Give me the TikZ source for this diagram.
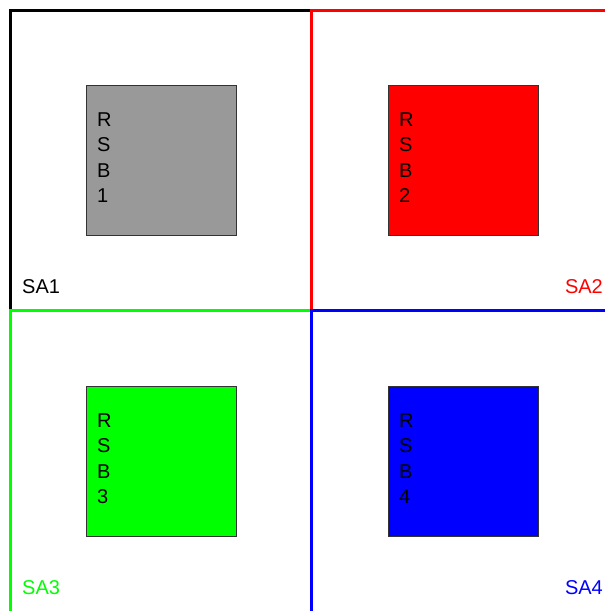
\documentclass[tikz,border=0pt]{standalone}
\usepackage{fontspec}
\setmainfont{Liberation Sans}
\definecolor{sagreen}{RGB}{0,255,0}
\definecolor{rsbgray}{RGB}{153,153,153}
\begin{document}
\begin{tikzpicture}[x=1pt,y=-1pt,
  frame/.style={line width=3pt},
  rsbbox/.style={draw=black!80, line width=0.8pt, minimum width=150pt, minimum height=150pt, inner sep=0pt, anchor=north west},
  rsbtext/.style={anchor=north west, inner sep=0pt, align=left, font=\fontsize{20}{25.5}\selectfont},
  salabel/.style={inner sep=0pt, font=\fontsize{20}{24}\selectfont}]
\useasboundingbox (0,0) rectangle (605,611);
\fill[white] (0,0) rectangle (605,611);
% frames
\draw[frame, black] (10,10) rectangle (311.5,310.5);
\draw[frame, red] (311.5,10) rectangle (625,310.5);
\draw[frame, sagreen] (10,310.5) rectangle (311.5,625);
\draw[frame, blue] (311.5,310.5) rectangle (625,625);
% boxes
\node[rsbbox, fill=rsbgray] (rsb1) at (86,85) {};
\node[rsbbox, fill=red] (rsb2) at (388,85) {};
\node[rsbbox, fill=sagreen] (rsb3) at (86,386) {};
\node[rsbbox, fill=blue] (rsb4) at (388,386) {};
\node[rsbtext] (t1) at ([xshift=11pt,yshift=-27.5pt]rsb1.north west) {R\\S\\B\\1};
\node[rsbtext] (t2) at ([xshift=11pt,yshift=-27.5pt]rsb2.north west) {R\\S\\B\\2};
\node[rsbtext] (t3) at ([xshift=11pt,yshift=-27.5pt]rsb3.north west) {R\\S\\B\\3};
\node[rsbtext] (t4) at ([xshift=11pt,yshift=-27.5pt]rsb4.north west) {R\\S\\B\\4};
% labels
\node[salabel, anchor=base west, text=black] (sa1) at (22,293) {SA1};
\node[salabel, anchor=base east, text=red] (sa2) at (603,293) {SA2};
\node[salabel, anchor=base west, text=sagreen] (sa3) at (22,594) {SA3};
\node[salabel, anchor=base east, text=blue] (sa4) at (603,594) {SA4};
\end{tikzpicture}
\end{document}
